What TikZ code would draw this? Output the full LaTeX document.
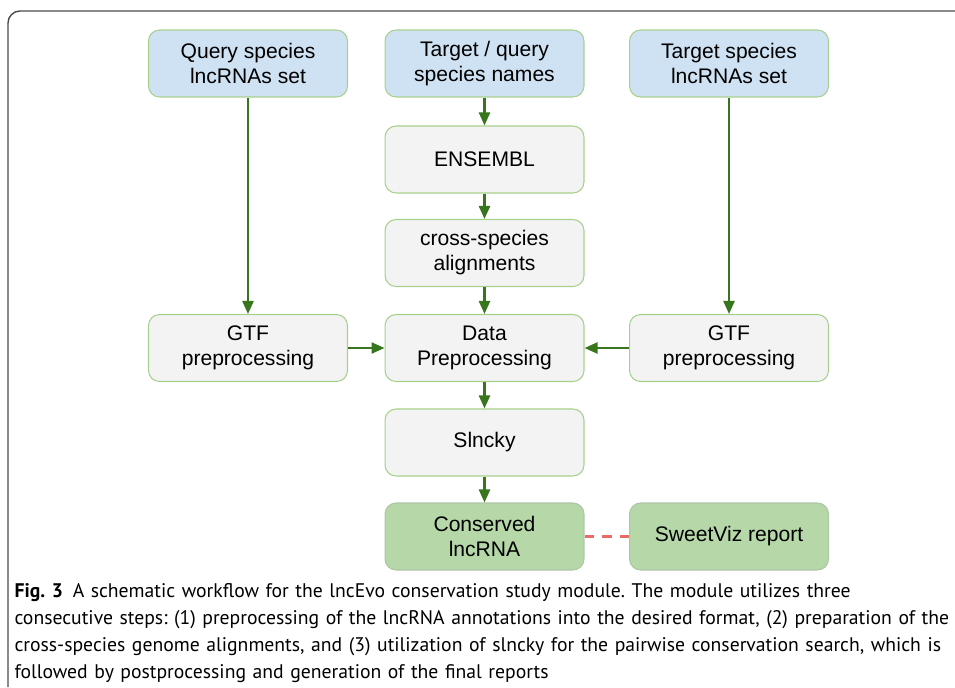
\documentclass[tikz,border=0pt]{standalone}
\usepackage{fontspec}
\setmainfont{Liberation Sans}
\newfontfamily\capfont{PT Sans}
\usetikzlibrary{arrows.meta}

\definecolor{boxblue}{HTML}{CFE2F3}
\definecolor{boxgray}{HTML}{F3F3F3}
\definecolor{boxgreen}{HTML}{B6D7A8}
\definecolor{edgegreen}{HTML}{A8D08D}
\definecolor{arrowgreen}{HTML}{38761D}
\definecolor{linkred}{HTML}{EA6B66}

\begin{document}
\frenchspacing
\begin{tikzpicture}[x=0.02cm,y=-0.02cm,line width=0.6pt,
  >={Triangle[length=2.6mm,width=2.2mm]},
  stepbox/.style={draw=edgegreen,rounded corners=2.2mm,minimum width=3.98cm,minimum height=1.34cm,
    align=center,font=\fontsize{12pt}{14.2pt}\selectfont,inner sep=2pt},
  inbox/.style={stepbox,fill=boxblue},
  runbox/.style={stepbox,fill=boxgray},
  outbox/.style={stepbox,fill=boxgreen,draw=boxgreen!85!black!80},
  flow/.style={->,arrowgreen,line width=1.3pt}]
  \useasboundingbox (0,0) rectangle (955,687);
  % outer frame
  \draw[black!70,line width=0.8pt,rounded corners=2.4mm] (8,687)--(8,11)--(955,11);
  % inputs
  \node[inbox] (qset) at (248,63.5){Query species\\lncRNAs set};
  \node[inbox] (names) at (484.5,63.5){Target / query\\species names};
  \node[inbox] (tset) at (729,63.5){Target species\\lncRNAs set};
  % middle column
  \node[runbox] (ens) at (484.5,159.5){ENSEMBL};
  \node[runbox] (align) at (484.5,253){cross-species\\alignments};
  \node[runbox] (data) at (484.5,348){Data\\Preprocessing};
  \node[runbox] (gtfq) at (248,348){GTF\\preprocessing};
  \node[runbox] (gtft) at (729,348){GTF\\preprocessing};
  \node[runbox] (slncky) at (484.5,442.5){Slncky};
  % outputs
  \node[outbox] (cons) at (484.5,536.5){Conserved\\lncRNA};
  \node[outbox] (sweet) at (729,536.5){SweetViz report};
  \draw[flow] (names)--(ens);
  \draw[flow] (ens)--(align);
  \draw[flow] (align)--(data);
  \draw[flow] (qset)--(gtfq);
  \draw[flow] (tset)--(gtft);
  \draw[flow] (gtfq)--(data);
  \draw[flow] (gtft)--(data);
  \draw[flow] (data)--(slncky);
  \draw[flow] (slncky)--(cons);
  \draw[linkred,line width=1.5pt,dash pattern=on 5.6pt off 4.6pt] (cons)--(sweet);
  % caption
  \node[anchor=north west,text width=18.8cm,align=left,inner sep=0pt,
    font=\capfont\fontsize{11.2pt}{15.3pt}\selectfont] (cap) at (14,583)
    {\textbf{Fig. 3}\enspace A schematic workflow for the lncEvo conservation study module. The module utilizes three\\
     consecutive steps: (1) preprocessing of the lncRNA annotations into the desired format, (2) preparation of the\\
     cross-species genome alignments, and (3) utilization of slncky for the pairwise conservation search, which is\\
     followed by postprocessing and generation of the final reports};
\end{tikzpicture}
\end{document}
